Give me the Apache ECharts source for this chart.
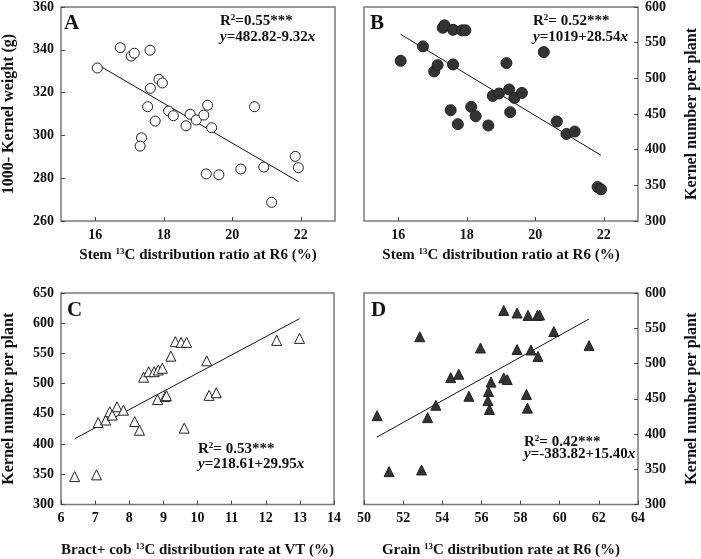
<!DOCTYPE html>
<html><head><meta charset="utf-8">
<script src="https://cdn.jsdelivr.net/npm/echarts@6/dist/echarts.min.js"></script>
<style>html,body{margin:0;padding:0;background:#fff}#c{width:701px;height:559px}</style>
</head><body><div id="c"></div>
<script>
// Panel A: stem 13C ratio vs 1000-kernel weight
const xA = [16.06,16.73,17.05,17.14,17.60,17.61,17.86,17.96,17.53,17.75,17.35,17.31,18.14,18.28,18.65,18.77,18.95,19.17,19.28,19.40,19.24,19.61,20.25,20.65,20.92,21.15,21.84,21.93];
const yA = [331.5,341.0,337.1,338.4,339.8,322.0,326.2,324.5,313.4,306.7,298.9,295.0,311.4,309.2,304.5,309.9,307.2,309.5,314.1,303.6,282.0,281.6,284.3,313.4,285.2,268.7,290.2,284.9];
const fitA = [[16.06,333.1],[21.93,278.4]];
// Panel B: stem 13C ratio vs kernel number
const xB = [16.07,16.72,17.05,17.15,17.30,17.35,17.60,17.60,17.86,17.96,17.53,17.74,18.13,18.26,18.63,18.76,18.94,19.16,19.24,19.39,19.61,19.27,20.25,20.63,20.91,21.15,21.82,21.92];
const yB = [524.6,544.8,509.7,518.5,570.9,574.3,568.1,519.5,567.3,567.3,455.3,435.7,460.0,446.9,433.9,475.4,478.8,521.3,484.4,472.6,479.6,452.5,536.8,439.5,422.1,425.4,347.6,344.4];
const fitB = [[16.07,561.7],[21.92,392.1]];
// Panel C: bract+cob 13C rate at VT vs kernel number
const xC = [6.40,7.04,7.09,7.31,7.43,7.50,7.64,7.83,8.16,8.30,8.42,8.57,8.73,8.85,8.97,8.83,9.05,9.09,9.22,9.35,9.52,9.68,9.61,10.27,10.34,10.55,12.32,12.99];
const yC = [346.2,349.0,435.6,439.8,453.5,448.0,461.7,456.1,437.2,423.0,510.7,519.8,519.8,522.6,525.4,473.6,478.5,480.1,545.5,569.5,568.3,568.3,426.3,537.8,480.6,485.0,571.6,574.9];
const fitC = [[6.40,408.8],[12.99,607.5]];
// Panel D: grain 13C rate at R6 vs kernel number
const xD = [50.67,51.28,52.85,52.94,53.25,53.67,54.43,54.84,55.36,55.95,56.36,56.33,56.41,56.49,57.14,57.14,57.32,57.82,57.82,58.30,58.35,58.38,58.53,58.86,58.97,58.89,59.70,61.50];
const yD = [426.0,346.6,538.0,349.0,423.2,440.8,480.0,484.8,453.5,522.0,460.4,447.4,434.8,473.6,575.2,479.6,477.2,571.6,519.8,456.2,436.7,568.2,519.2,568.2,568.8,510.0,545.4,525.4];
const fitD = [[50.66,395.6],[61.50,563.2]];

const ticksA = [16,18,20,22];
const labelsAll = {A:'A',B:'B',C:'C',D:'D'};
const statA = ['R{sup|2}=0.55***','{i|y}=482.82-9.32{i|x}'];
const statB = ['R{sup|2}= 0.52***','{i|y}=1019+28.54{i|x}'];
const statC = ['R{sup|2}= 0.53***','{i|y}=218.61+29.95{i|x}'];
const statD = ['R{sup|2}= 0.42***','{i|y}=-383.82+15.40{i|x}'];

const FF = '"Liberation Serif","Times New Roman",serif';
const rich = {
  sup:{fontSize:9,fontWeight:'bold',fontFamily:FF,color:'#111',verticalAlign:'top',padding:[0,0,7,0]},
  i:{fontSize:15,fontWeight:'bold',fontStyle:'italic',fontFamily:FF,color:'#111'}
};
const pts = (xs,ys)=>xs.map((x,i)=>[x,ys[i]]);

function xAxis(idx,min,max,interval,name,gap,custom){
  const a = {gridIndex:idx,type:'value',min,max,interval,
    name,nameLocation:'middle',nameGap:gap,
    nameTextStyle:{fontSize:15,fontWeight:'bold',fontFamily:FF,color:'#111',rich},
    axisLine:{show:false},
    axisTick:{show:true,inside:true,length:4,lineStyle:{color:'#444'}},
    axisLabel:{fontSize:14,fontWeight:'bold',fontFamily:FF,color:'#111',margin:7,showMinLabel:true,showMaxLabel:true},
    splitLine:{show:false}};
  if(custom){a.axisTick.customValues=custom;a.axisLabel.customValues=custom;}
  return a;
}
function yAxis(idx,min,max,interval,name,pos){
  return {gridIndex:idx,type:'value',min,max,interval,position:pos,
    name,nameLocation:'middle',nameGap:pos==='left'?44:46,
    nameTextStyle:{fontSize:16,fontWeight:'bold',fontFamily:FF,color:'#111'},
    axisLine:{show:false},
    axisTick:{show:true,inside:true,length:4,lineStyle:{color:'#444'}},
    axisLabel:{fontSize:14,fontWeight:'bold',fontFamily:FF,color:'#111',margin:7,showMinLabel:true,showMaxLabel:true},
    splitLine:{show:false}};
}
const gridStyle = {show:true,borderColor:'#7a7a7a',borderWidth:1.5,backgroundColor:'transparent'};
function fitLine(idx,data){
  return {type:'line',xAxisIndex:idx,yAxisIndex:idx,data,symbol:'none',lineStyle:{color:'#111',width:1},z:1,silent:true};
}
function scatter(idx,data,symbol,fill,size){
  return {type:'scatter',xAxisIndex:idx,yAxisIndex:idx,data,symbol,symbolSize:size,
    itemStyle:{color:fill,borderColor:'#222',borderWidth:1,opacity:1},z:2};
}
function txt(left,top,text,size){
  return {type:'text',left,top,style:{text,fontSize:size,fontWeight:'bold',fontFamily:FF,fill:'#111',rich}};
}

const chart = echarts.init(document.getElementById('c'),null,{renderer:'canvas'});
chart.setOption({
  animation:false,
  backgroundColor:'#fff',
  grid:[
    Object.assign({left:57,top:7,width:278,height:214},gridStyle),
    Object.assign({left:364,top:7,width:278,height:214},gridStyle),
    Object.assign({left:57,top:293,width:277,height:214},gridStyle),
    Object.assign({left:364,top:293,width:278,height:214},gridStyle)
  ],
  xAxis:[
    xAxis(0,15,23,1,'Stem {sup|13}C distribution ratio at R6 (%)',26,ticksA),
    xAxis(1,15,23,1,'Stem {sup|13}C distribution ratio at R6 (%)',26,ticksA),
    xAxis(2,6,14,1,'Bract+ cob {sup|13}C distribution rate at VT (%)',38),
    xAxis(3,50,64,2,'Grain {sup|13}C distribution rate at R6 (%)',38)
  ],
  yAxis:[
    yAxis(0,260,360,20,'1000- Kernel weight (g)','left'),
    yAxis(1,300,600,50,'Kernel number per plant','right'),
    yAxis(2,300,650,50,'Kernel number per plant','left'),
    yAxis(3,300,600,50,'Kernel number per plant','right')
  ],
  series:[
    fitLine(0,fitA), scatter(0,pts(xA,yA),'circle','#fff',10),
    fitLine(1,fitB), scatter(1,pts(xB,yB),'circle','#333',11),
    fitLine(2,fitC), scatter(2,pts(xC,yC),'triangle','#fff',10),
    fitLine(3,fitD), scatter(3,pts(xD,yD),'triangle','#333',10)
  ],
  graphic:[
    txt(64,13,labelsAll.A,21), txt(370,13,labelsAll.B,21),
    txt(67,300,labelsAll.C,21), txt(371,300,labelsAll.D,21),
    txt(220,13,statA[0],15), txt(220,30,statA[1],15),
    txt(533,13,statB[0],15), txt(533,30,statB[1],15),
    txt(198,441,statC[0],15), txt(198,457,statC[1],15),
    txt(524,434,statD[0],15), txt(524,447,statD[1],15)
  ]
});
</script></body></html>
